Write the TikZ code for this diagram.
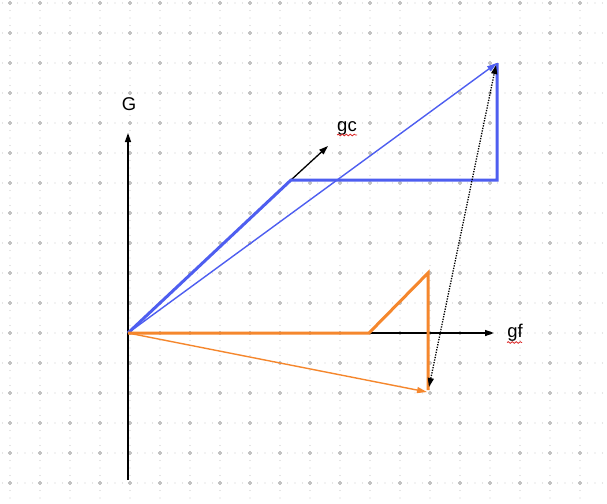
\documentclass[tikz,border=0pt]{standalone}
\usepackage{fontspec}
\setmainfont{Liberation Sans}
\usetikzlibrary{arrows.meta,decorations.pathmorphing}
\definecolor{gridc}{RGB}{205,205,205}
\definecolor{gridm}{RGB}{195,195,195}
\definecolor{blueL}{RGB}{78,94,240}
\definecolor{orangeL}{RGB}{245,135,45}
\definecolor{squig}{RGB}{220,40,40}
\tikzset{
  axis/.style={draw=black,line width=1.3pt,-{Triangle[length=9pt,width=6pt]}},
  thickblue/.style={draw=blueL,line width=3pt,line join=miter},
  thinblue/.style={draw=blueL,line width=1.4pt,-{Triangle[length=10pt,width=6pt]}},
  thickorange/.style={draw=orangeL,line width=3pt,line join=miter},
  thinorange/.style={draw=orangeL,line width=1.4pt,-{Triangle[length=10pt,width=6pt]}},
  dotline/.style={draw=black,line width=1.3pt,dash pattern=on 1.3pt off 1.3pt,{Triangle[length=9pt,width=6pt]}-{Triangle[length=9pt,width=6pt]}},
  lbl/.style={font=\fontsize{18.5}{22}\selectfont,inner sep=0pt},
  spell/.style={draw=squig,line width=0.8pt,decorate,decoration={snake,amplitude=0.8pt,segment length=4pt}}
}
\begin{document}
\begin{tikzpicture}[x=1pt,y=-1pt]
\useasboundingbox (0,0) rectangle (607,503);
\fill[white] (0,0) rectangle (607,503);
% grid dots
\foreach \gy in {3,33,...,483}{
  \foreach \gx in {2.5,10,...,607}{
    \fill[gridc] (\gx,\gy) circle (0.65pt);
  }
}
\foreach \gx in {10,40,...,580}{
  \foreach \gy in {3,10.5,...,503}{
    \fill[gridc] (\gx,\gy) circle (0.65pt);
  }
}
\foreach \gx in {10,40,...,580}{
  \foreach \gy in {3,33,...,483}{
    \draw[gridm,line width=1.2pt] (\gx-2.2,\gy) -- (\gx+2.2,\gy) (\gx,\gy-2.2) -- (\gx,\gy+2.2);
  }
}
% points
\coordinate (O) at (128,333);
\coordinate (Gbot) at (128,480);
\coordinate (Gtop) at (128,133);
\coordinate (Fend) at (494,333);
\coordinate (B1) at (291,180);
\coordinate (B2) at (497,180);
\coordinate (B3) at (497,63);
\coordinate (Cend) at (328,146);
\coordinate (R1) at (369,333);
\coordinate (R2) at (428,273);
\coordinate (R3) at (428,390);
\coordinate (R4) at (427,392);
% axes
\draw[axis] (Gbot) -- (Gtop);
\draw[axis] (O) -- (Fend);
\draw[axis] (B1) -- (Cend);
% blue
\draw[thickblue] (O) -- (B1) -- (B2) -- (B3);
\draw[thinblue] (O) -- (B3);
% orange
\draw[thickorange] (O) -- (R1) -- (R2) -- (R3);
\draw[thinorange] (O) -- (R4);
% dotted
\draw[dotline] ([shift={(1,-3)}]R3) -- ([shift={(-1,2)}]B3);
% labels
\node[lbl] (G) at (129,104) {G};
\node[lbl,anchor=base] (gc) at (347,131) {gc};
\node[lbl,anchor=base] (gf) at (515,337) {gf};
\draw[spell] ([xshift=-10pt,yshift=-4pt]gc.base) -- ([xshift=10pt,yshift=-4pt]gc.base);
\draw[spell] ([xshift=-8pt,yshift=-5.5pt]gf.base) -- ([xshift=7pt,yshift=-5.5pt]gf.base);
\end{tikzpicture}
\end{document}
